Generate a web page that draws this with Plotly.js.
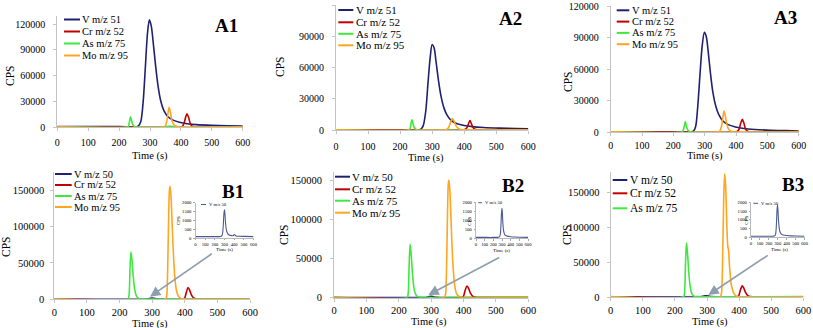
<!DOCTYPE html>
<html><head><meta charset="utf-8">
<script src="https://cdn.plot.ly/plotly-3.0.1.min.js"></script>
<style>html,body{margin:0;padding:0;background:#fff;}#chart{width:813px;height:328px;}</style>
</head><body><div id="chart"></div>
<script>
// ---------------- DATA ----------------
const PANEL_LABELS = ['A1','A2','A3','B1','B2','B3'];
const LEG_A = ['V m/z 51','Cr m/z 52','As m/z 75','Mo m/z 95'];
const LEG_B = ['V m/z 50','Cr m/z 52','As m/z 75','Mo m/z 95'];
const LEG_B3 = ['V m/z 50','Cr m/z 52','As m/z 75'];
const INSET_LEG = 'V m/z 50';
const X_TITLE = 'Time (s)';
const Y_TITLE = 'CPS';

// A1
const T_A1_V = [0,100,200,255,262,270,278,285,292,298,304,310,318,326,335,345,358,375,395,420,450,500,550,600];
const Y_A1_V = [400,400,400,300,1000,6000,30000,70000,110000,125000,118000,100000,72000,48000,30000,19000,12000,8000,5500,3800,2800,2000,1500,1200];
const T_A1_Cr = [0,400,405,410,415,420,425,430,436,445,600];
const Y_A1_Cr = [200,200,800,4000,11000,15500,11000,4500,1000,200,200];
const T_A1_As = [0,225,230,234,237,240,244,250,258,340,350,365,380,390,600];
const Y_A1_As = [100,100,1000,7000,12000,8000,3000,500,0,0,600,800,600,0,0];
const T_A1_Mo = [0,345,350,355,359,362,366,370,375,382,392,600];
const Y_A1_Mo = [300,300,1500,8000,18000,23000,17000,9000,4000,1200,300,300];
// A2
const T_A2_V = [0,200,260,265,272,280,287,294,300,306,312,320,328,337,347,360,378,400,425,460,510,560,600];
const Y_A2_V = [300,300,300,800,4000,18000,45000,70000,82000,79000,66000,47000,32000,21000,14000,9000,6000,4300,3200,2400,1800,1400,1100];
const T_A2_Cr = [0,398,404,409,414,418,422,427,433,442,600];
const Y_A2_Cr = [200,200,700,2500,6500,9000,6500,2500,700,200,200];
const T_A2_As = [0,226,231,234,237,240,244,250,258,600];
const Y_A2_As = [100,100,1500,6000,10000,6500,2500,500,0,0];
const T_A2_Mo = [0,342,348,353,358,363,368,373,379,386,395,600];
const Y_A2_Mo = [300,300,1000,3500,8000,11000,9000,5000,2200,800,300,300];
// A3
const T_A3_V = [0,200,258,264,271,278,285,292,299,305,311,318,326,335,345,358,375,398,425,460,510,560,600];
const Y_A3_V = [300,300,300,800,5000,25000,55000,82000,95000,91000,77000,57000,38000,25000,16500,10500,7000,4800,3300,2400,1700,1300,1000];
const T_A3_Cr = [0,400,405,410,415,420,425,430,436,445,600];
const Y_A3_Cr = [200,200,700,3000,8500,12000,8500,3200,800,200,200];
const T_A3_As = [0,226,231,235,238,241,245,251,258,600];
const Y_A3_As = [100,100,1200,6000,10000,6500,2500,500,0,0];
const T_A3_Mo = [0,344,349,354,358,362,366,370,375,382,392,600];
const Y_A3_Mo = [300,300,1200,6000,14000,20000,15000,8000,3500,1000,300,300];
// B1
const T_B1_V = [0,100,200,260,275,283,290,295,300,305,310,318,328,340,360,390,400,408,420,450,500,600];
const Y_B1_V = [80,80,80,90,150,400,1000,1450,1600,1350,900,500,300,200,150,130,200,170,120,100,90,80];
const T_B1_Cr = [0,395,400,405,410,415,420,427,435,445,600];
const Y_B1_Cr = [300,300,2000,10000,16000,12500,6500,2000,600,300,300];
const T_B1_As = [0,226,229,232,235,238,242,246,250,255,262,270,600];
const Y_B1_As = [500,500,5000,40000,65000,55000,32000,15000,6500,2500,800,500,500];
const T_B1_Mo = [0,340,344,347,350,353,355,358,362,366,370,375,380,388,398,600];
const Y_B1_Mo = [300,300,3000,30000,100000,150000,155000,140000,95000,55000,28000,11000,4500,1200,300,300];
// B2
const T_B2_V = [0,100,200,260,275,283,290,295,300,305,310,318,328,340,360,400,450,500,600];
const Y_B2_V = [60,60,60,70,120,350,950,1450,1650,1350,850,450,250,170,130,100,80,70,60];
const T_B2_Cr = [0,395,400,405,411,416,421,428,436,446,600];
const Y_B2_Cr = [300,300,2000,9500,15000,11500,6000,1900,600,300,300];
const T_B2_As = [0,226,229,232,235,238,242,246,250,255,262,270,600];
const Y_B2_As = [500,500,5000,42000,68000,57000,33000,15000,6500,2500,800,500,500];
const T_B2_Mo = [0,340,344,347,350,353,355,358,362,366,370,375,380,388,398,600];
const Y_B2_Mo = [300,300,3000,28000,95000,145000,150000,135000,92000,52000,27000,10000,4000,1200,300,300];
// B3
const T_B3_V = [0,100,200,260,273,281,288,293,298,303,308,315,325,340,360,400,450,500,600];
const Y_B3_V = [60,60,60,70,130,400,1100,1650,1850,1500,1000,600,300,180,130,100,80,70,60];
const T_B3_Cr = [0,394,399,404,410,415,420,427,435,445,600];
const Y_B3_Cr = [300,300,2000,10000,16000,12500,6500,2000,600,300,300];
const T_B3_As = [0,227,230,233,236,239,243,247,251,256,263,270,600];
const Y_B3_As = [500,500,6000,48000,78000,65000,37000,17000,7000,2500,800,500,500];
const T_B3_Mo = [0,341,345,348,352,355,358,362,365,367,370,375,382,390,400,600];
const Y_B3_Mo = [300,300,5000,40000,140000,177000,160000,100000,72000,68000,45000,20000,7000,1500,300,300];

// ---------------- STYLE / LAYOUT ----------------
const COLORS = ['#1F2070','#C00000','#3FE83F','#FFA51F'];
const INSET_COLOR = '#4A5A90';
const FONT = '"Liberation Serif", "Times New Roman", Times, serif';
const W = 813, H = 328;
const px = x => x / W;
const py = y => 1 - y / H;

const SERIES = [
  [[T_A1_V,Y_A1_V],[T_A1_Cr,Y_A1_Cr],[T_A1_As,Y_A1_As],[T_A1_Mo,Y_A1_Mo]],
  [[T_A2_V,Y_A2_V],[T_A2_Cr,Y_A2_Cr],[T_A2_As,Y_A2_As],[T_A2_Mo,Y_A2_Mo]],
  [[T_A3_V,Y_A3_V],[T_A3_Cr,Y_A3_Cr],[T_A3_As,Y_A3_As],[T_A3_Mo,Y_A3_Mo]],
  [[T_B1_V,Y_B1_V],[T_B1_Cr,Y_B1_Cr],[T_B1_As,Y_B1_As],[T_B1_Mo,Y_B1_Mo]],
  [[T_B2_V,Y_B2_V],[T_B2_Cr,Y_B2_Cr],[T_B2_As,Y_B2_As],[T_B2_Mo,Y_B2_Mo]],
  [[T_B3_V,Y_B3_V],[T_B3_Cr,Y_B3_Cr],[T_B3_As,Y_B3_As],[T_B3_Mo,Y_B3_Mo]]
];
const LEGENDS = [LEG_A, LEG_A, LEG_A, LEG_B, LEG_B, LEG_B3];

const PANELS = [
  {x0:57.3, x1:242.7, yb:127,   yt:15.6,  ymax:130000, dy:30000, fs:10,  ystand:6, xstand:3, lfs:10.5,
   leg:{x0:64, x1:80, tx:81, rows:[19.5,31.5,43.5,55.5]}, lab:[226.7,26], cps:[10,76], time:[150,155.5]},
  {x0:336,  x1:528.3, yb:130,   yt:5,     ymax:120000, dy:30000, fs:10,  ystand:6, xstand:4, lfs:11,
   leg:{x0:338.3, x1:353.3, tx:355, rows:[10,22.3,33.8,45.3]}, lab:[510,18.3], cps:[280,67], time:[426,158]},
  {x0:610.7, x1:798.7, yb:132,  yt:6,     ymax:120000, dy:30000, fs:10,  ystand:6, xstand:1, lfs:10.5,
   leg:{x0:616.7, x1:629.3, tx:630.7, rows:[10.3,21.6,32.9,44.2]}, lab:[785,17.3], cps:[568,82], time:[705,156]},
  {x0:54.3, x1:250,   yb:299.3, yt:171.8, ymax:175000, dy:50000, fs:10.5, ystand:4, xstand:1.5, lfs:10.5,
   leg:{x0:55, x1:71.7, tx:72.7, rows:[174,185,196,207]}, lab:[233.3,191.7], cps:[6,247], time:[150,323.5]},
  {x0:334,  x1:528.3, yb:297.7, yt:172.2, ymax:160000, dy:50000, fs:10.5, ystand:6, xstand:0, lfs:11,
   leg:{x0:335, x1:350, tx:351, rows:[176.7,189.3,200.7,212.7]}, lab:[512.7,186], cps:[284,235], time:[429,321.5]},
  {x0:610.7, x1:803.3, yb:297,  yt:171.8, ymax:180000, dy:50000, fs:10.5, ystand:5, xstand:0, lfs:11.5,
   leg:{x0:612.7, x1:627.3, tx:628.7, rows:[180,193.3,208.3]}, lab:[793.3,185], cps:[567,235], time:[710,321.5]}
];
const INSETS = [
  {x0:195.5, x1:253.5, yb:238,   yt:202.8, data:[T_B1_V,Y_B1_V], leg:{x0:201,x1:206,tx:207,y:204.5}, cps:[178,221], time:[224,249.5],
   arrow:{hx:150, hy:296.7, tx:213.3, ty:252.7}},
  {x0:476,   x1:528,   yb:238.5, yt:202,   data:[T_B2_V,Y_B2_V], leg:{x0:478.3,x1:482,tx:483,y:202.7}, cps:[470,221.7], time:[501,250],
   arrow:{hx:428.3, hy:295, tx:500.7, ty:256.7}},
  {x0:751,   x1:804.5, yb:237.3, yt:202.3, data:[T_B3_V,Y_B3_V], leg:{x0:753.3,x1:758,tx:759,y:203.3}, cps:[745.7,220], time:[779.3,249.3],
   arrow:{hx:708.3, hy:295, tx:769.3, ty:254.3}}
];

const traces = [];
const layout = {
  width: W, height: H, margin:{l:0,r:0,t:0,b:0},
  paper_bgcolor:'#ffffff', plot_bgcolor:'rgba(0,0,0,0)',
  showlegend:false, annotations:[], shapes:[],
  font:{family:FONT, color:'#000'}
};
const AXC = '#C4C4C4';

PANELS.forEach((p, i) => {
  const n = i + 1;
  const xa = n === 1 ? 'xaxis' : 'xaxis' + n;
  const ya = n === 1 ? 'yaxis' : 'yaxis' + n;
  const xr = n === 1 ? 'x' : 'x' + n;
  const yr = n === 1 ? 'y' : 'y' + n;
  layout[xa] = {domain:[px(p.x0), px(p.x1)], anchor:yr, range:[0,600], dtick:100, tick0:0, tickformat:'d', tickangle:0,
    showline:true, linecolor:AXC, linewidth:1, ticks:'outside', ticklen:3, tickcolor:AXC,
    showgrid:false, zeroline:false, ticklabelstandoff:p.xstand, tickfont:{family:FONT, size:p.fs, color:'#000'}, fixedrange:true};
  layout[ya] = {domain:[py(p.yb), py(p.yt)], anchor:xr, range:[0,p.ymax], dtick:p.dy, tick0:0, tickformat:'d',
    showline:true, linecolor:AXC, linewidth:1, ticks:'outside', ticklen:3, tickcolor:AXC,
    showgrid:false, zeroline:false, ticklabelstandoff:p.ystand, tickfont:{family:FONT, size:p.fs, color:'#000'}, fixedrange:true};
  SERIES[i].forEach((s, k) => {
    traces.push({type:'scatter', mode:'lines', x:s[0], y:s[1], xaxis:xr, yaxis:yr,
      name:(LEGENDS[i][k] || LEG_B[k]), line:{color:COLORS[k], width:1.6, shape:'spline', smoothing:0.8},
      hoverinfo:'skip'});
  });
  LEGENDS[i].forEach((lbl, k) => {
    const yy = p.leg.rows[k];
    layout.shapes.push({type:'line', xref:'paper', yref:'paper', x0:px(p.leg.x0), x1:px(p.leg.x1), y0:py(yy), y1:py(yy),
      line:{color:COLORS[k], width:2}});
    layout.annotations.push({xref:'paper', yref:'paper', x:px(p.leg.tx), y:py(yy), xanchor:'left', yanchor:'middle',
      text:lbl, showarrow:false, borderpad:0, font:{family:FONT, size:p.lfs, color:'#000'}});
  });
  layout.annotations.push({xref:'paper', yref:'paper', x:px(p.lab[0]), y:py(p.lab[1]), xanchor:'center', yanchor:'middle',
    text:PANEL_LABELS[i], showarrow:false, font:{family:FONT, size:19, weight:'bold', color:'#000'}});
  layout.annotations.push({xref:'paper', yref:'paper', x:px(p.cps[0]), y:py(p.cps[1]), xanchor:'center', yanchor:'middle',
    text:Y_TITLE, textangle:-90, showarrow:false, font:{family:FONT, size:11.5, color:'#000'}});
  layout.annotations.push({xref:'paper', yref:'paper', x:px(p.time[0]), y:py(p.time[1]), xanchor:'center', yanchor:'middle',
    text:X_TITLE, showarrow:false, borderpad:0, font:{family:FONT, size:10.5, color:'#000'}});
});

INSETS.forEach((q, j) => {
  const n = 7 + j;
  const xr = 'x' + n, yr = 'y' + n;
  layout['xaxis' + n] = {domain:[px(q.x0), px(q.x1)], anchor:yr, range:[0,600], dtick:100, tick0:0, tickformat:'d', tickangle:0,
    showline:true, linecolor:'#A8A8A8', linewidth:0.8, ticks:'outside', ticklen:1.5, tickcolor:'#A8A8A8',
    showgrid:false, zeroline:false, ticklabelstandoff:0, tickfont:{family:FONT, size:4.6, color:'#000'}, fixedrange:true};
  layout['yaxis' + n] = {domain:[py(q.yb), py(q.yt)], anchor:xr, range:[0,2000], dtick:500, tick0:0, tickformat:'d',
    showline:true, linecolor:'#A8A8A8', linewidth:0.8, ticks:'outside', ticklen:1.5, tickcolor:'#A8A8A8',
    showgrid:false, zeroline:false, ticklabelstandoff:1, tickfont:{family:FONT, size:4.6, color:'#000'}, fixedrange:true};
  traces.push({type:'scatter', mode:'lines', x:q.data[0], y:q.data[1], xaxis:xr, yaxis:yr, name:INSET_LEG,
    line:{color:INSET_COLOR, width:1.1, shape:'spline', smoothing:0.8}, hoverinfo:'skip'});
  layout.shapes.push({type:'line', xref:'paper', yref:'paper', x0:px(q.leg.x0), x1:px(q.leg.x1), y0:py(q.leg.y), y1:py(q.leg.y),
    line:{color:INSET_COLOR, width:1}});
  layout.annotations.push({xref:'paper', yref:'paper', x:px(q.leg.tx), y:py(q.leg.y), xanchor:'left', yanchor:'middle',
    text:INSET_LEG, showarrow:false, font:{family:FONT, size:4.6, color:'#000'}});
  layout.annotations.push({xref:'paper', yref:'paper', x:px(q.cps[0]), y:py(q.cps[1]), xanchor:'center', yanchor:'middle',
    text:Y_TITLE, textangle:-90, showarrow:false, font:{family:FONT, size:5, color:'#000'}});
  layout.annotations.push({xref:'paper', yref:'paper', x:px(q.time[0]), y:py(q.time[1]), xanchor:'center', yanchor:'middle',
    text:X_TITLE, showarrow:false, font:{family:FONT, size:5, color:'#000'}});
  const a = q.arrow;
  layout.annotations.push({xref:'paper', yref:'paper', x:px(a.hx), y:py(a.hy), ax:a.tx - a.hx, ay:a.ty - a.hy,
    text:'', showarrow:true, arrowhead:2, arrowsize:1.3, arrowwidth:1.6, arrowcolor:'#8E9EAE', standoff:0});
});

Plotly.newPlot('chart', traces, layout, {staticPlot:true, displayModeBar:false});
</script></body></html>
